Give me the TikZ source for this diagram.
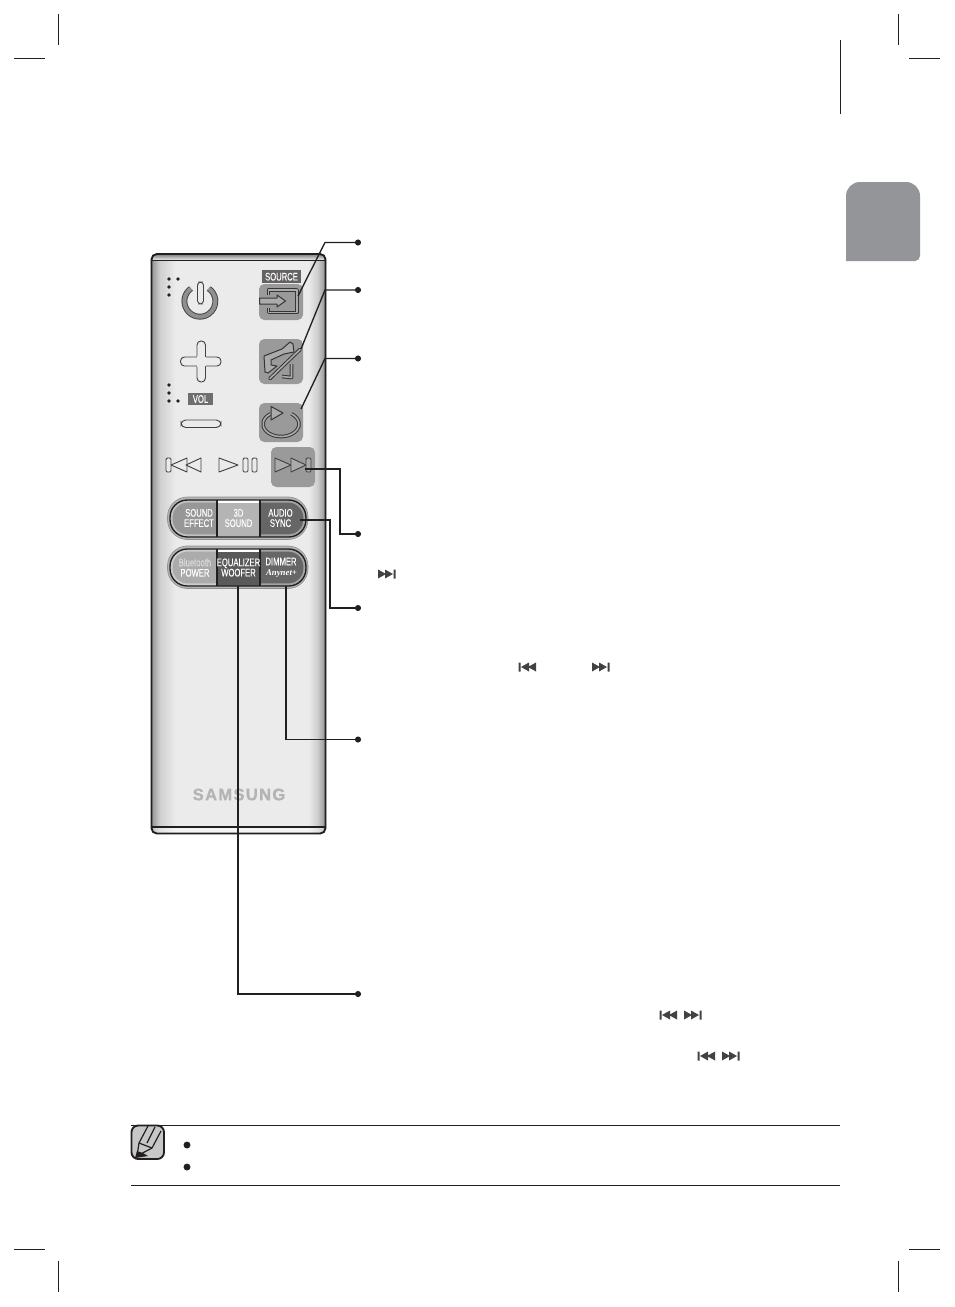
\documentclass[tikz,border=0pt]{standalone}
\usepackage{fontspec}
\setmainfont{Liberation Sans}
\newfontfamily\narrowf[FakeStretch=0.70,FakeBold=0.3]{Liberation Sans}
\newfontfamily\logof[LetterSpace=8,FakeBold=1.2]{Liberation Sans Bold}
\newfontfamily\anyf{Liberation Serif Bold Italic}
\definecolor{c1}{HTML}{EBEBEB}
\definecolor{c2}{HTML}{CFCFCF}
\definecolor{c3}{HTML}{B4B4B4}
\definecolor{c7}{HTML}{8F8F8F}
\definecolor{ink}{HTML}{231F20}
\definecolor{padgray}{HTML}{9A9A9A}
\definecolor{padline}{HTML}{ABABAB}
\definecolor{tabgray}{HTML}{939598}
\definecolor{p1a}{HTML}{979797}\definecolor{p1b}{HTML}{B4B4B4}\definecolor{p1c}{HTML}{666666}
\definecolor{p2a}{HTML}{ABABAB}\definecolor{p2b}{HTML}{5A5A5A}\definecolor{p2c}{HTML}{666666}
\pgfdeclarehorizontalshading{remotebody}{100bp}{color(0bp)=(c7);color(25bp)=(c7);color(27.5bp)=(c2);color(32bp)=(c1);color(70bp)=(c1);color(72.5bp)=(c2);color(75bp)=(c7);color(100bp)=(c7)}
\tikzset{
 crop/.style={draw=ink,line width=0.5pt},
 leader/.style={draw=ink,line width=1.5pt},
 leaderthin/.style={draw=ink,line width=1pt},
 leaddot/.style={circle,fill=ink,inner sep=0pt,minimum size=4.6pt},
 pad/.style={fill=padgray,rounded corners=4pt},
 iconpad/.style={draw=ink!90,double=padline,line width=0.75pt,double distance=1.2pt,line join=round},
 btn/.style={text=white,font=\narrowf\fontsize{8.2pt}{7.7pt}\selectfont,align=center,inner sep=0pt},
 tiny/.style={circle,fill=ink,inner sep=0pt,minimum size=2.9pt},
 skiptri/.style={fill=ink!85,draw=none},
 tr/.style={draw=ink!85,fill=c1,line width=0.7pt,line join=round},
 tp/.style={draw=ink!85,fill=padline,line width=0.7pt,line join=round},
 headpad/.style={draw=ink!90,fill=padline,line width=0.75pt,line join=round},
 blob/.style={draw=ink!85,fill=c1,line width=0.7pt},
}
\newcommand{\nxt}[2]{\fill[skiptri] (#1-9,#2-4.5)--(#1-1,#2)--(#1-9,#2+4.5)--cycle (#1-2,#2-4.5)--(#1+6,#2)--(#1-2,#2+4.5)--cycle (#1+6.5,#2-4.5) rectangle (#1+8.5,#2+4.5);}
\newcommand{\prv}[2]{\fill[skiptri] (#1+9,#2-4.5)--(#1+1,#2)--(#1+9,#2+4.5)--cycle (#1+2,#2-4.5)--(#1-6,#2)--(#1+2,#2+4.5)--cycle (#1-6.5,#2-4.5) rectangle (#1-8.5,#2+4.5);}
\begin{document}
\begin{tikzpicture}[x=0.75pt,y=-0.75pt]
\useasboundingbox (0,0) rectangle (954,1307);
\fill[white] (0,0) rectangle (954,1307);
% crop marks
\draw[crop] (58,14)--(58,45) (14,58)--(45,58) (898,14)--(898,45) (909,58)--(940,58);
\draw[crop] (14,1249)--(45,1249) (58,1261)--(58,1292) (909,1249)--(940,1249) (898,1261)--(898,1292);
\draw[draw=ink,line width=0.7pt] (840,40)--(840,114);
% tab
\fill[tabgray] (846,261)--(846,196) to[out=90,in=180] (860,182)--(906,182) to[out=0,in=90] (920,196)--(920,256) to[out=-90,in=0] (915,261)--cycle;
% remote body
\shade[shading=remotebody,rounded corners=4pt] (151,254) rectangle (326,834);
\shade[top color=c7,bottom color=c1] (153,255) rectangle (324,260);
\fill[white,opacity=.45] (153,828) rectangle (324,833);
\draw[draw=ink,line width=1.4pt,rounded corners=4pt] (151.5,254)--(325.5,254)--(325.5,833.5)--(151.5,833.5)--cycle;
\draw[draw=ink,line width=0.6pt] (152,260)--(325,260);
\draw[draw=ink,line width=0.9pt] (152,827)--(325,827);
% pads
\fill[pad] (259,284) rectangle (303,320);
\fill[pad] (259,339) rectangle (303,384);
\fill[pad] (259,403) rectangle (303,442);
\fill[pad] (271,447) rectangle (315,487);
\fill[ink!70] (262,270) rectangle (301,283);
\node[btn] (src) at (281.5,276.7) {SOURCE};
% dots
\foreach \p in {(169,279),(178,279),(169,287),(169,295),(169,385),(169,393),(169,401),(178,401)} \node[tiny] at \p {};
% power
\draw[draw=ink!85,double=c7,line width=0.7pt,double distance=3pt] (191,288.5) arc[start angle=235,end angle=-55,radius=15.5];
\draw[blob,rounded corners=2.5pt] (197.5,282) rectangle (203.5,304);
% plus, minus
\draw[blob,rounded corners=3pt] (197,341) rectangle (205.5,382);
\draw[blob,rounded corners=3pt] (180.5,357) rectangle (221,366);
\fill[c1] (196.6,357.4) rectangle (205.9,365.6);
\fill[c1] (197.4,356) rectangle (205.1,367);
\draw[blob,rounded corners=3.5pt] (181,420) rectangle (221,427.5);
\fill[ink!65] (188,393) rectangle (213,405);
\node[btn] (vol) at (200.5,399) {VOL};
% source icon
\draw[iconpad] (268.5,295)--(268.5,290)--(297,290)--(297,312.5)--(268.5,312.5)--(268.5,308);
\draw[headpad] (259.5,298)--(277,298)--(277,295)--(285.5,301)--(277,307)--(277,304)--(259.5,304)--cycle;
% mute icon
\draw[headpad] (264,356)--(282,349)--(290,342)--(293,344)--(294,352)--(284,354)--(271,360)--(271,365)--(277,366)--(268,373)--(265,372)--cycle;
\draw[iconpad] (282,376.5)--(291.5,377.5)--(291.5,364);
\draw[iconpad,line cap=round] (270,378.5)--(300,349.5);
% repeat icon
\draw[iconpad] (270.7,413.8) arc[start angle=235,end angle=-55,x radius=18,y radius=12.5];
\draw[headpad] (271,406.5)--(283,413)--(271,420)--cycle;
% transport
\draw[tr,rounded corners=1pt] (166,458) rectangle (171,472);
\draw[tr] (171,465)--(187,458)--(187,472)--cycle;
\draw[tr] (186,465)--(201,458)--(201,472)--cycle;
\draw[tr] (219,458)--(238,465)--(219,472)--cycle;
\draw[tr,rounded corners=1pt] (243,458) rectangle (248,472);
\draw[tr,rounded corners=1pt] (252,458) rectangle (257,472);
\draw[tp] (275,458)--(291,465)--(275,472)--cycle;
\draw[tp] (291,458)--(306,465)--(291,472)--cycle;
\draw[tp,rounded corners=1pt] (306,458) rectangle (311,472);
% upper pill
\draw[draw=c7,fill=c3,line width=0.5pt,rounded corners=15pt] (167.5,497) rectangle (308,539.5);
\begin{scope}
\clip[rounded corners=13pt] (170,500) rectangle (306,537);
\fill[p1a] (170,500) rectangle (217,537);
\fill[p1c] (260,500) rectangle (306,537);
\draw[white,opacity=.4,line width=1.6pt,rounded corners=12pt] (171.5,501.5) rectangle (304.5,535.5);
\fill[p1b] (217,500) rectangle (260,537);
\fill[white] (217,500) rectangle (260,502.5);
\end{scope}
\draw[draw=ink,line width=1pt,rounded corners=13pt] (170,500) rectangle (306,537);
\draw[draw=ink,line width=1pt] (217,500)--(217,537) (260,500)--(260,537);
\node[btn] (se) at (199,518) {SOUND\\EFFECT};
\node[btn] (sd) at (238.5,518) {3D\\SOUND};
\node[btn] (as) at (280.5,518) {AUDIO\\SYNC};
\fill[c7] (181,508) circle (1.2);
% lower pill
\draw[draw=c7,fill=c3,line width=0.5pt,rounded corners=15pt] (167.5,546) rectangle (308,588.5);
\begin{scope}
\clip[rounded corners=13pt] (170,549) rectangle (306,586);
\fill[p2a] (170,549) rectangle (217,586);
\fill[p2c] (260,549) rectangle (306,586);
\draw[white,opacity=.4,line width=1.6pt,rounded corners=12pt] (171.5,550.5) rectangle (304.5,584.5);
\fill[p2b] (217,549) rectangle (260,586);
\fill[white] (217,549) rectangle (260,551.5);
\end{scope}
\draw[draw=ink,line width=1pt,rounded corners=13pt] (170,549) rectangle (306,586);
\draw[draw=ink,line width=1pt] (217,549)--(217,586) (260,549)--(260,586);
\node[btn] (bp) at (195,567.5) {\textcolor{c1!80!padgray}{Bluetooth}\\POWER};
\node[btn] (eq) at (238.5,567.5) {EQUALIZER\\WOOFER};
\node[btn] (dm) at (281,561.5) {DIMMER};
\node[btn,font=\anyf\fontsize{6.6pt}{7pt}\selectfont] (any) at (281.5,573.5) {Anynet+};
% logo
\node[text=c3,inner sep=0pt,font=\logof\fontsize{12.4pt}{13pt}\selectfont] (logo) at (239,794.5) {SAMSUNG};
% connectors
\node[leaddot] (d1) at (358,242.5) {};
\node[leaddot] (d2) at (358,290) {};
\node[leaddot] (d3) at (358,358.5) {};
\node[leaddot] (d4) at (358,534) {};
\node[leaddot] (d5) at (358,608) {};
\node[leaddot] (d6) at (358,739.5) {};
\node[leaddot] (d7) at (358,994) {};
\coordinate (s1) at (298,296);
\coordinate (s2) at (301,349);
\coordinate (s3) at (301,409);
\coordinate (s4) at (305,468.5);
\coordinate (s5) at (300,520);
\coordinate (s6) at (286,586);
\coordinate (s7) at (238,586);
\draw[leaderthin] (d1.center)--(325,242.5)--(s1);
\draw[leaderthin] (d2.center)--(325,290)--(s2);
\draw[leaderthin] (d3.center)--(325,358.5)--(s3);
\draw[leader] (s4)--(340,468.5)--(340,534)--(d4.center);
\draw[leader] (s5)--(330,520)--(330,608)--(d5.center);
\draw[leaderthin] (s6)--(286,739.5)--(d6.center);
\draw[leader] (s7)--(238,994)--(d7.center);
% small skip glyphs
\nxt{387}{574}
\prv{527}{667}
\nxt{601}{667}
\prv{668}{1015}
\nxt{693}{1015}
\prv{706}{1056}
\nxt{731}{1056}
% note
\draw[draw=ink,line width=0.7pt] (131,1125)--(840,1125) (131,1185)--(840,1185);
\draw[draw=ink,fill=black!22,line width=1.4pt,rounded corners=5pt] (131.5,1125.5) rectangle (164,1159);
\draw[draw=ink,line width=0.9pt,line join=round] (148,1126)--(139,1143)--(137,1156)--(152,1148)--(161,1131) (139,1143)--(152,1148) (155,1127)--(147,1143);
\fill[ink] (135,1158)--(137,1151)--(143,1153)--(148,1156)--cycle;
\node[tiny,minimum size=5.2pt] (n1) at (187,1145) {};
\node[tiny,minimum size=5.2pt] (n2) at (187,1167) {};
\end{tikzpicture}
\end{document}
